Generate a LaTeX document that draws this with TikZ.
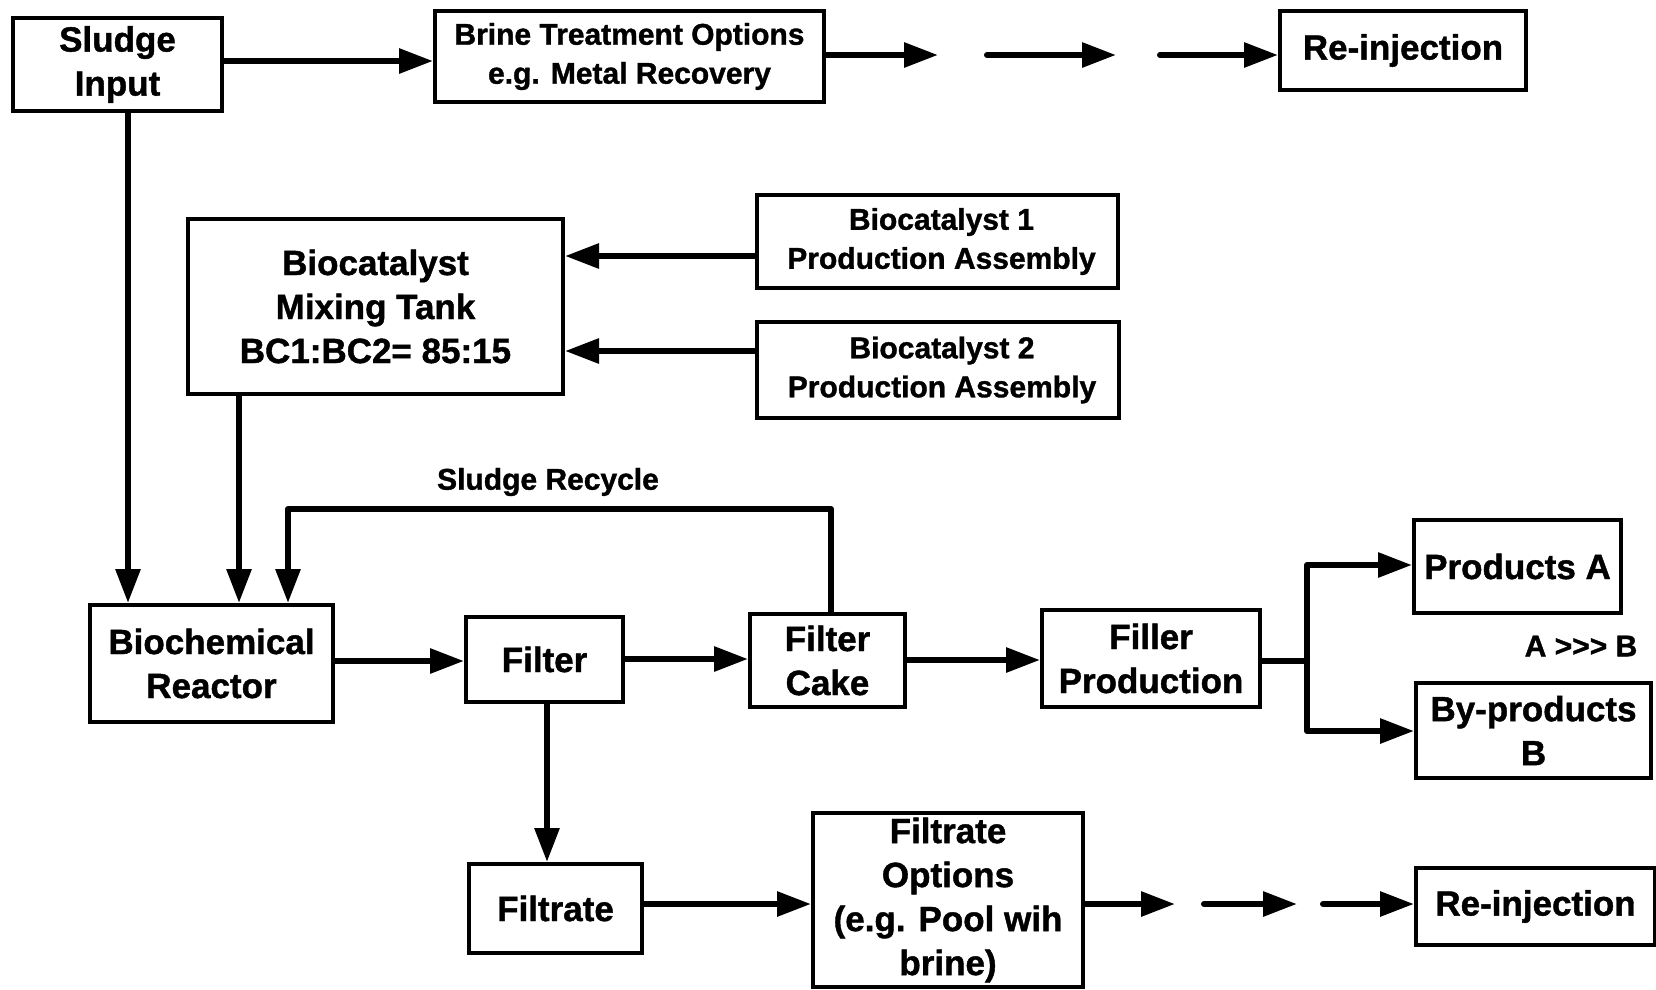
\documentclass[tikz,border=0pt]{standalone}
\usepackage{fontspec}
\setmainfont{Liberation Sans}[BoldFeatures={FakeBold=1.2}]
\usetikzlibrary{arrows.meta}
\begin{document}
\begin{tikzpicture}[x=1pt,y=-1pt,
  box/.style={draw, line width=4pt, rectangle, inner sep=0pt, align=center,
    font=\bfseries\fontsize{35}{44}\selectfont},
  sbox/.style={box, font=\bfseries\fontsize{30}{39}\selectfont},
  arr/.style={line width=6pt, -{Triangle[length=34pt,width=24pt]}, line cap=round, line join=round},
  lab/.style={inner sep=0pt, font=\bfseries\fontsize{30}{39}\selectfont}]
\useasboundingbox (0,0) rectangle (1656,989);

% nodes
\node[box, minimum width=209pt, minimum height=93pt] (sin) at (117.5,64.5) {Sludge\\Input};
\node[sbox, minimum width=389pt, minimum height=91pt] (brine) at (629.5,56.5) {Brine Treatment Options\\e.g. Metal Recovery};
\node[box, minimum width=246pt, minimum height=79pt] (rein1) at (1403,50.5) {Re-injection};
\node[box, minimum width=375pt, minimum height=175pt] (mix) at (375.5,306.5) {Biocatalyst\\Mixing Tank\\BC1:BC2= 85:15};
\node[sbox, minimum width=361pt, minimum height=93pt] (bc1) at (937.5,241.5) {\hspace*{8pt}Biocatalyst 1\\\hspace*{8pt}Production Assembly};
\node[sbox, minimum width=362pt, minimum height=96pt] (bc2) at (938,370) {\hspace*{8pt}Biocatalyst 2\\\hspace*{8pt}Production Assembly};
\node[box, minimum width=243pt, minimum height=117pt] (reac) at (211.5,663.5) {Biochemical\\Reactor};
\node[box, minimum width=157pt, minimum height=85pt] (filt) at (544.5,659.5) {Filter};
\node[box, minimum width=155pt, minimum height=93pt] (cake) at (827.5,660.5) {Filter\\Cake};
\node[box, minimum width=218pt, minimum height=97pt] (fill) at (1151,658.5) {Filler\\Production};
\node[box, minimum width=207pt, minimum height=93pt] (proda) at (1517.5,566.5) {Products A};
\node[box, minimum width=235pt, minimum height=95pt] (prodb) at (1533.5,730.5) {By-products\\B};
\node[box, minimum width=173pt, minimum height=89pt] (ftr) at (555.5,908.5) {Filtrate};
\node[box, minimum width=270pt, minimum height=174pt] (fopt) at (948,900) {Filtrate\\Options\\(e.g. Pool wih\\brine)};
\node[box, minimum width=239pt, minimum height=77pt] (rein2) at (1535.5,906.5) {Re-injection};

\node[lab] (recyc) at (548,482) {Sludge Recycle};
\node[lab] (agb) at (1581,646) {A >{}>{}> B};

% free ends
\coordinate (t1) at (938,55);
\coordinate (t2) at (987,55);
\coordinate (t3) at (1116,55);
\coordinate (t4) at (1160,55);
\coordinate (b1) at (1175,904);
\coordinate (b2) at (1204,904);
\coordinate (b3) at (1297,904);
\coordinate (b4) at (1323,904);
\coordinate (rc) at (288,509);
\coordinate (split) at (1307,661);

% connectors
\draw[arr] (sin.east |- 0,61) -- (brine.west |- 0,61);
\draw[arr] (brine.east |- 0,55) -- (t1);
\draw[arr] (t2) -- (t3);
\draw[arr] (t4) -- (rein1.west |- 0,55);

\draw[arr] (sin.south -| 128,0) -- (reac.north -| 128,0);
\draw[arr] (mix.south -| 239,0) -- (reac.north -| 239,0);
\draw[arr] (cake.north -| 831,0) |- (rc) -- (reac.north -| rc);

\draw[arr] (bc1.west |- 0,256) -- (mix.east |- 0,256);
\draw[arr] (bc2.west |- 0,351) -- (mix.east |- 0,351);

\draw[arr] (reac.east |- 0,661) -- (filt.west |- 0,661);
\draw[arr] (filt.east |- 0,659) -- (cake.west |- 0,659);
\draw[arr] (cake.east |- 0,660) -- (fill.west |- 0,660);
\draw[line width=6pt, line cap=round] (fill.east |- split) -- (split);
\draw[arr] (split) |- (proda.west |- 0,565);
\draw[arr] (split) |- (prodb.west |- 0,731);

\draw[arr] (filt.south -| 547,0) -- (ftr.north -| 547,0);
\draw[arr] (ftr.east |- 0,904) -- (fopt.west |- 0,904);
\draw[arr] (fopt.east |- 0,904) -- (b1);
\draw[arr] (b2) -- (b3);
\draw[arr] (b4) -- (rein2.west |- 0,904);
\end{tikzpicture}
\end{document}
